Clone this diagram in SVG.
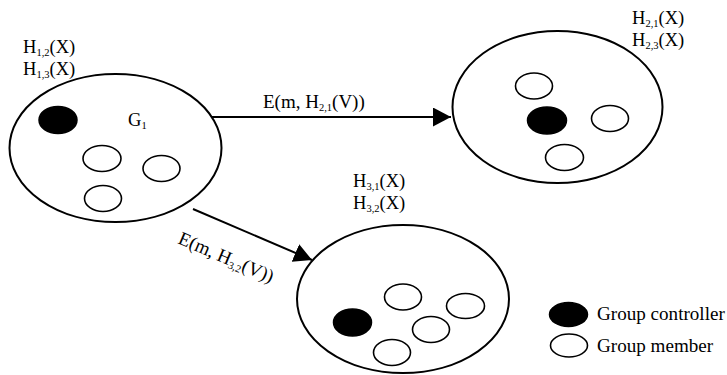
<svg xmlns="http://www.w3.org/2000/svg" width="727" height="375" viewBox="0 0 727 375">
<style>
.grp{fill:#fff;stroke:#000;stroke-width:2}
.ctl{fill:#000;stroke:#000;stroke-width:1.5}
.mem{fill:#fff;stroke:#000;stroke-width:1.6}
.lbl{font-family:"Liberation Serif","Times New Roman",serif;font-size:18.5px;fill:#000}
.elbl{font-size:19px}
.leg{font-size:19.1px}
.sub{font-size:10.5px}
.conn{stroke:#000;stroke-width:2;fill:none}
</style>
<defs>
<marker id="arr" markerUnits="userSpaceOnUse" markerWidth="20" markerHeight="20" refX="18" refY="9.5" orient="auto">
<path d="M0,0 L18,9.5 L0,19 z" fill="#000"/>
</marker>
</defs>
<rect width="727" height="375" fill="#fff"/>
<g id="connectors">
<line class="conn" x1="211" y1="117" x2="451" y2="117" marker-end="url(#arr)"/>
<line class="conn" x1="193" y1="209" x2="312" y2="260" marker-end="url(#arr)"/>
<text class="lbl elbl" x="263" y="108">E(m, H<tspan class="sub" dy="3">2,1</tspan><tspan dy="-3">(V))</tspan></text>
<text class="lbl elbl" transform="translate(177,243) rotate(23.2)">E(m, H<tspan class="sub" dy="3">3,2</tspan><tspan dy="-3">(V))</tspan></text>
</g>
<g id="G1">
<ellipse class="grp" cx="115.5" cy="148" rx="106" ry="74"/>
<ellipse class="ctl" cx="58" cy="120" rx="19" ry="13.5"/>
<ellipse class="mem" cx="102" cy="158.5" rx="19" ry="13"/>
<ellipse class="mem" cx="161.5" cy="168.5" rx="18.5" ry="13"/>
<ellipse class="mem" cx="103" cy="198.5" rx="18.5" ry="13"/>
<text class="lbl" x="128" y="126">G<tspan class="sub" dy="3">1</tspan></text>
<text class="lbl" x="23" y="53">H<tspan class="sub" dy="3">1,2</tspan><tspan dy="-3">(X)</tspan></text>
<text class="lbl" x="23" y="75">H<tspan class="sub" dy="3">1,3</tspan><tspan dy="-3">(X)</tspan></text>
</g>
<g id="G2">
<ellipse class="grp" cx="557.5" cy="107" rx="105" ry="76"/>
<ellipse class="ctl" cx="547" cy="120.5" rx="19.5" ry="13.5"/>
<ellipse class="mem" cx="534" cy="86" rx="18.5" ry="13"/>
<ellipse class="mem" cx="610" cy="118.5" rx="18.5" ry="13"/>
<ellipse class="mem" cx="564.5" cy="157.5" rx="19" ry="13"/>
<text class="lbl" x="632" y="24">H<tspan class="sub" dy="3">2,1</tspan><tspan dy="-3">(X)</tspan></text>
<text class="lbl" x="632" y="46">H<tspan class="sub" dy="3">2,3</tspan><tspan dy="-3">(X)</tspan></text>
</g>
<g id="G3">
<ellipse class="grp" cx="403" cy="299" rx="106" ry="74"/>
<ellipse class="ctl" cx="352.5" cy="322.5" rx="19" ry="13.5"/>
<ellipse class="mem" cx="403" cy="297" rx="18.5" ry="13"/>
<ellipse class="mem" cx="465.5" cy="306" rx="19" ry="12.5"/>
<ellipse class="mem" cx="431" cy="329.5" rx="18.5" ry="13"/>
<ellipse class="mem" cx="392" cy="352.5" rx="18.5" ry="13"/>
<text class="lbl" x="353" y="187">H<tspan class="sub" dy="3">3,1</tspan><tspan dy="-3">(X)</tspan></text>
<text class="lbl" x="353" y="209">H<tspan class="sub" dy="3">3,2</tspan><tspan dy="-3">(X)</tspan></text>
</g>
<g id="legend">
<ellipse class="ctl" cx="568.5" cy="314.5" rx="19" ry="12"/>
<ellipse class="mem" cx="569" cy="345.5" rx="18.5" ry="11.5"/>
<text class="lbl leg" x="597" y="320">Group controller</text>
<text class="lbl leg" x="597" y="352">Group member</text>
</g>
</svg>
